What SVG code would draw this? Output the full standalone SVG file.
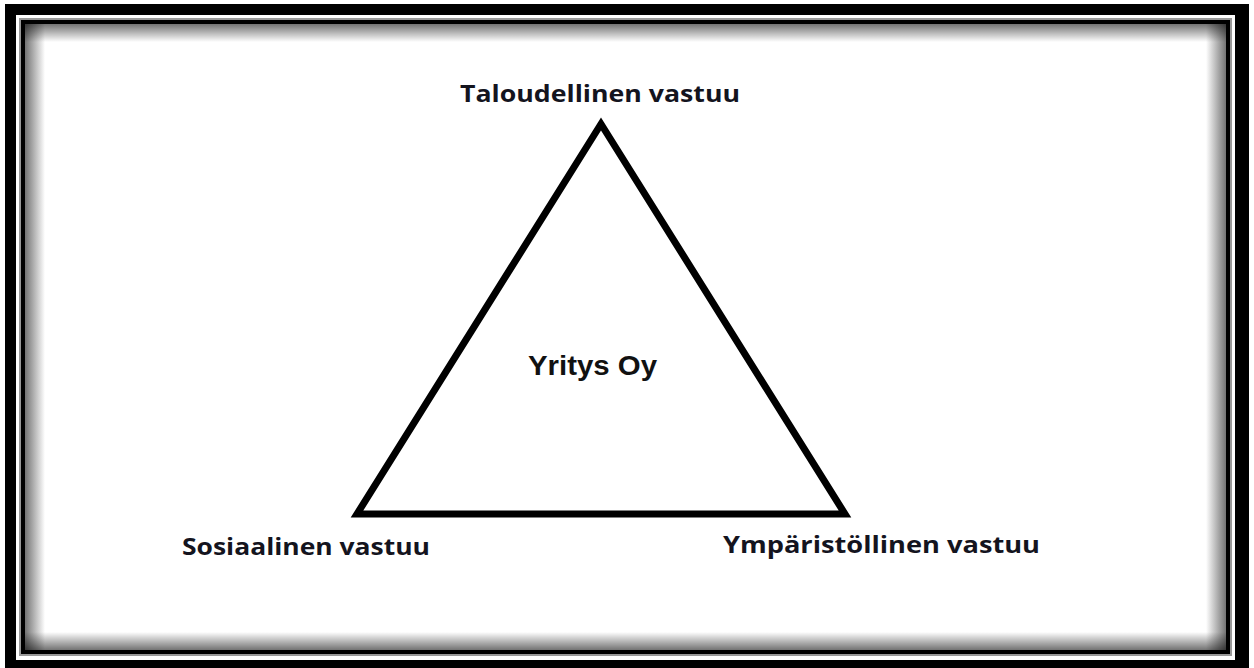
<svg xmlns="http://www.w3.org/2000/svg" width="1254" height="668" viewBox="0 0 1254 668">
  <style>
    .lbl { font-family: "Open Sans", "Liberation Sans", sans-serif; font-weight: bold; font-size: 24px; fill: #14141e; }
    .ctr { font-family: "Liberation Sans", Arial, sans-serif; font-weight: bold; font-size: 27px; fill: #111; }
    .tri { fill: none; stroke: #000; stroke-width: 7; stroke-linejoin: miter; }
  </style>
  <defs>
    <linearGradient id="gl" x1="0" y1="0" x2="1" y2="0">
      <stop offset="0" stop-color="#000" stop-opacity="0.55"/>
      <stop offset="1" stop-color="#000" stop-opacity="0"/>
    </linearGradient>
    <linearGradient id="gr" x1="1" y1="0" x2="0" y2="0">
      <stop offset="0" stop-color="#000" stop-opacity="0.55"/>
      <stop offset="1" stop-color="#000" stop-opacity="0"/>
    </linearGradient>
    <linearGradient id="gt" x1="0" y1="0" x2="0" y2="1">
      <stop offset="0" stop-color="#000" stop-opacity="0.55"/>
      <stop offset="1" stop-color="#000" stop-opacity="0"/>
    </linearGradient>
    <linearGradient id="gb" x1="0" y1="1" x2="0" y2="0">
      <stop offset="0" stop-color="#000" stop-opacity="0.55"/>
      <stop offset="1" stop-color="#000" stop-opacity="0"/>
    </linearGradient>
  </defs>
  <rect width="1254" height="668" fill="#fff"/>
  <g id="frame">
    <rect x="5" y="4" width="1244" height="664" fill="#000"/>
    <rect x="16" y="15" width="1219" height="645" fill="#fff"/>
    <rect x="20" y="19" width="1211" height="636" fill="none" stroke="#999" stroke-width="2"/>
    <rect x="23" y="22" width="1205" height="630" fill="none" stroke="#000" stroke-width="4"/>
    <rect x="25" y="24" width="20" height="626" fill="url(#gl)"/>
    <rect x="1206" y="24" width="20" height="626" fill="url(#gr)"/>
    <rect x="25" y="24" width="1201" height="18" fill="url(#gt)"/>
    <rect x="25" y="632" width="1201" height="18" fill="url(#gb)"/>
  </g>
  <g id="connectors">
    <polygon class="tri" points="601,124 357,514 845,514"/>
  </g>
  <g id="node-top">
    <text class="lbl" x="460" y="102" textLength="280" lengthAdjust="spacingAndGlyphs">Taloudellinen vastuu</text>
  </g>
  <g id="node-left">
    <text class="lbl" x="182" y="555" textLength="248" lengthAdjust="spacingAndGlyphs">Sosiaalinen vastuu</text>
  </g>
  <g id="node-right">
    <text class="lbl" x="723" y="553" textLength="317" lengthAdjust="spacingAndGlyphs">Ympäristöllinen vastuu</text>
  </g>
  <g id="node-center">
    <text class="ctr" x="528" y="375" textLength="129" lengthAdjust="spacingAndGlyphs">Yritys Oy</text>
  </g>
</svg>
